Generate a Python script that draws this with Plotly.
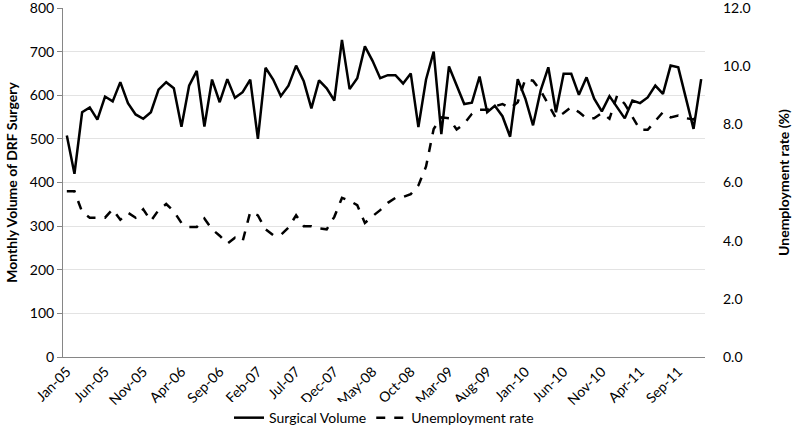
import pandas as pd
import plotly.graph_objects as go

# monthly categories Jan-05 .. Dec-11
months = pd.date_range("2005-01-01", periods=84, freq="MS").strftime("%b-%y").tolist()
tick_labels = ["Jan-05", "Jun-05", "Nov-05", "Apr-06", "Sep-06", "Feb-07", "Jul-07",
               "Dec-07", "May-08", "Oct-08", "Mar-09", "Aug-09", "Jan-10", "Jun-10",
               "Nov-10", "Apr-11", "Sep-11"]

surgical_volume = [
    508, 420, 561, 572, 544, 597, 586, 630, 582, 556, 546, 561,
    613, 630, 616, 528, 622, 656, 528, 636, 584, 637, 594, 607,
    636, 500, 663, 636, 598, 622, 668, 632, 570, 634, 616, 588,
    727, 614, 639, 712, 679, 639, 646, 646, 627, 650, 527, 636,
    700, 511, 666, 622, 580, 583, 643, 561, 576, 552, 505, 637,
    592, 531, 611, 664, 561, 649, 649, 601, 641, 592, 563, 598,
    573, 547, 588, 582, 595, 622, 603, 668, 664, 590, 523, 637,
]

unemployment_rate = [
    5.70, 5.70, 4.99, 4.79, 4.79, 4.79, 5.08, 4.72, 4.96, 4.79, 5.08, 4.68,
    5.05, 5.26, 5.01, 4.61, 4.47, 4.47, 4.76, 4.39, 4.17, 3.90, 4.10, 3.98,
    4.99, 4.87, 4.39, 4.19, 4.20, 4.45, 4.87, 4.50, 4.50, 4.42, 4.39, 4.82,
    5.47, 5.37, 5.22, 4.61, 4.84, 5.05, 5.30, 5.47, 5.50, 5.60, 5.90, 6.55,
    7.84, 8.24, 8.21, 7.82, 8.02, 8.36, 8.50, 8.50, 8.62, 8.70, 8.55, 8.76,
    9.56, 9.50, 9.16, 8.70, 8.21, 8.39, 8.59, 8.42, 8.21, 8.21, 8.39, 8.19,
    8.99, 8.70, 8.24, 7.81, 7.81, 8.13, 8.42, 8.24, 8.30, 8.21, 8.17, 8.42,
]

FONT = "Lato, 'Open Sans', sans-serif"
AXIS_GREY = "#868686"
GRID = "#e3e3e3"

fig = go.Figure()
fig.add_trace(go.Scatter(
    x=months, y=surgical_volume, name="Surgical Volume",
    mode="lines", line=dict(color="black", width=2.5),
))
fig.add_trace(go.Scatter(
    x=months, y=unemployment_rate, name="Unemployment rate",
    mode="lines", line=dict(color="black", width=2.5, dash="dash"),
    yaxis="y2",
))

fig.update_layout(
    width=800, height=441,
    margin=dict(l=63, r=95, t=8, b=84),
    plot_bgcolor="white", paper_bgcolor="white",
    font=dict(family=FONT, size=14, color="black"),
    showlegend=True,
    legend=dict(orientation="h", x=0.5, xanchor="center",
                yref="container", y=0.052, yanchor="middle",
                font=dict(size=14), itemwidth=30),
    xaxis=dict(
        type="category", range=[-0.5, 83.5], automargin=False,
        tickmode="array", tickvals=tick_labels, ticktext=tick_labels,
        tickangle=-45, showgrid=False,
        showline=True, linecolor=AXIS_GREY, linewidth=1,
        ticks="", tickfont=dict(size=14),
    ),
    yaxis=dict(
        range=[0, 800], dtick=100, showgrid=True, gridcolor=GRID, gridwidth=1,
        showline=True, linecolor=AXIS_GREY, linewidth=1, automargin=False,
        ticks="outside", ticklen=5, tickcolor=AXIS_GREY,
        zeroline=False, ticklabeloverflow="allow",
        title=dict(text="<b>Monthly Volume of DRF Surgery</b>", font=dict(size=14), standoff=8),
    ),
    yaxis2=dict(
        range=[0, 12], dtick=2, tickformat=".1f", overlaying="y", side="right",
        showgrid=False, showline=False, zeroline=False, ticks="", automargin=False,
        ticklabelstandoff=17, ticklabeloverflow="allow",
        title=dict(text="<b>Unemployment rate (%)</b>", font=dict(size=14), standoff=29),
    ),
)

# page body has a default 8px margin; drop it so the figure sits at the window corner
fig.write_html("out.html", config={"displayModeBar": False},
               post_script="document.body.style.margin = '0px';")
